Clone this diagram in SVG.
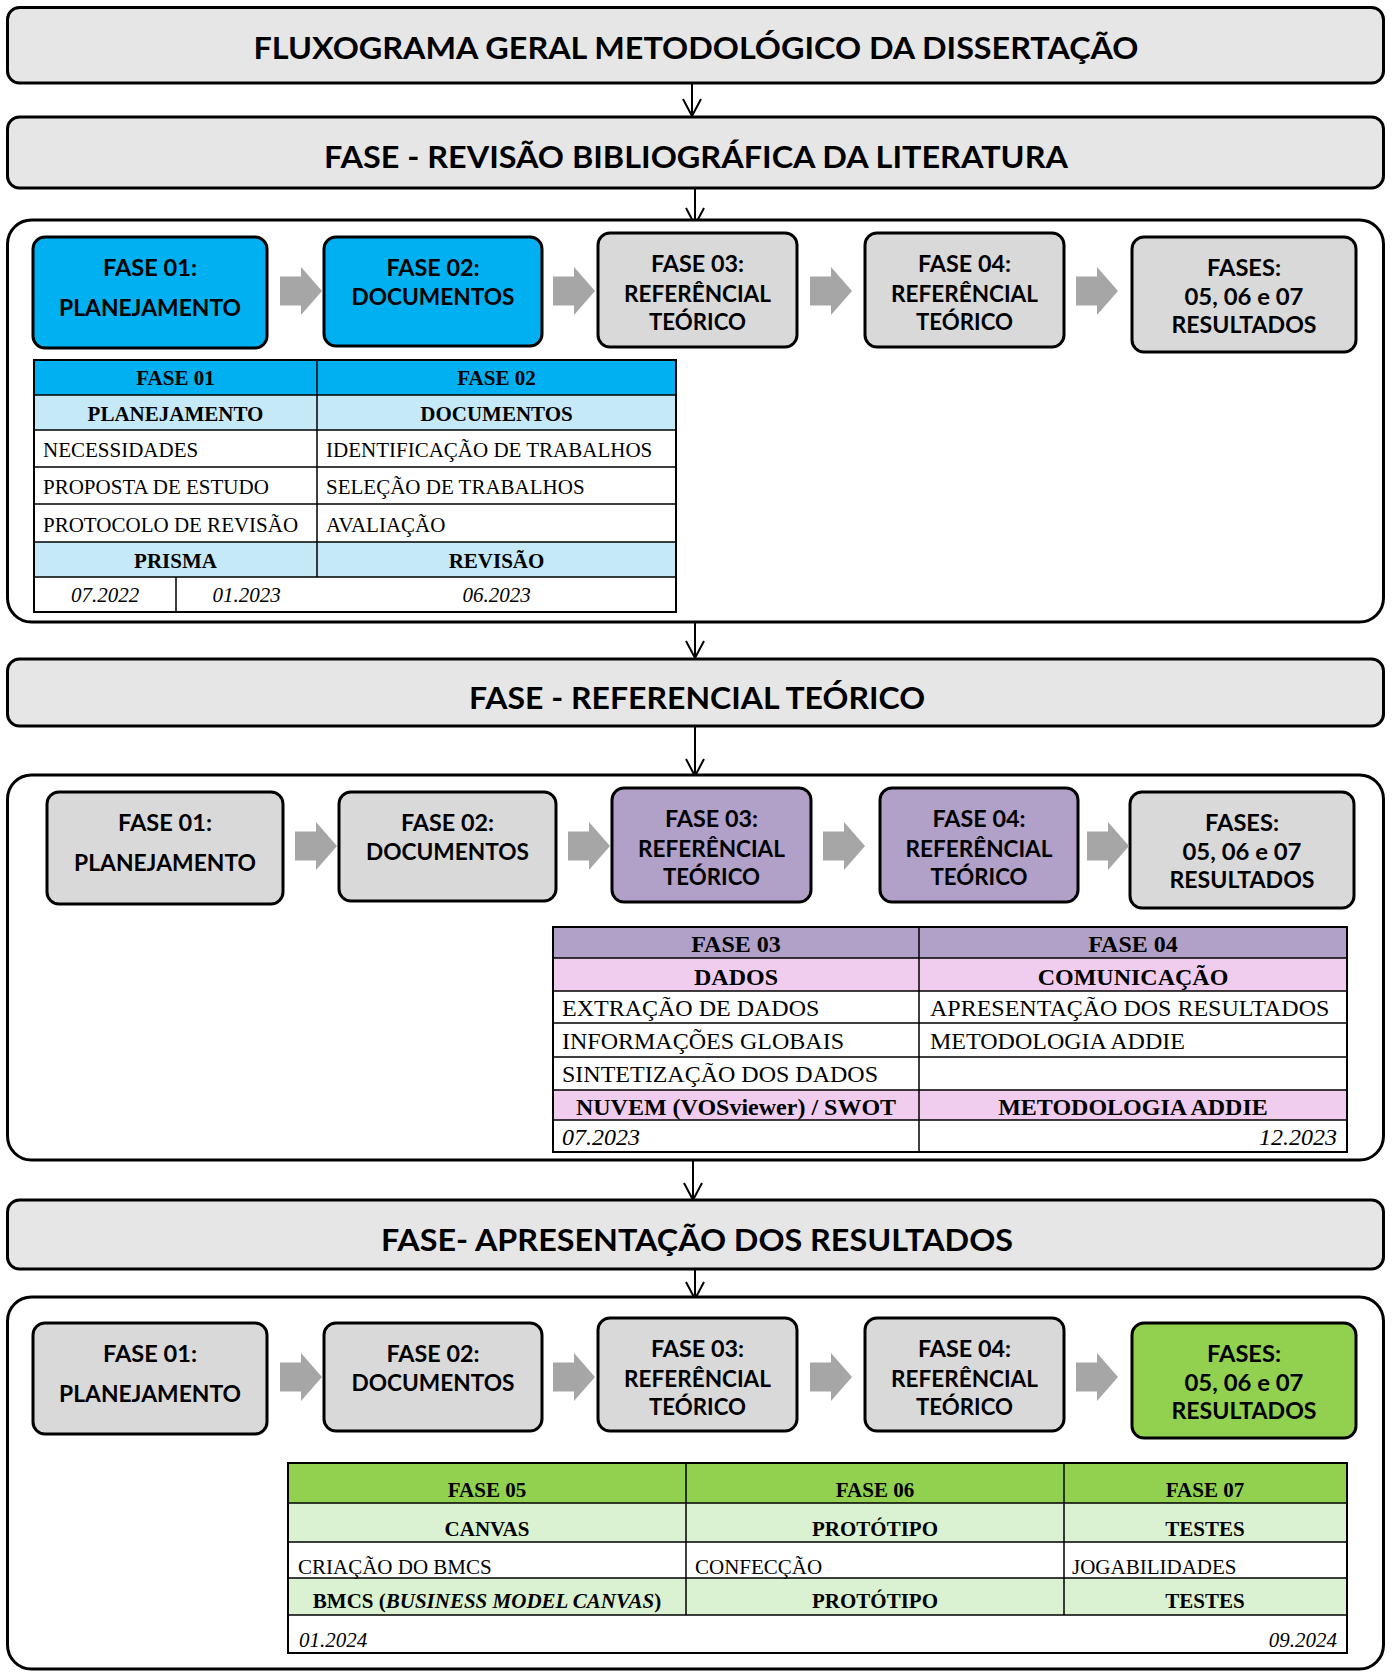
<svg xmlns="http://www.w3.org/2000/svg" width="1393" height="1673" viewBox="0 0 1393 1673">
<defs>
<style>
.bg{fill:#fff}
.title{fill:#E7E6E6;stroke:#000;stroke-width:3}
.cont{fill:#fff;stroke:#000;stroke-width:3}
.box{stroke:#000;stroke-width:3}
.grey{fill:#D9D9D9}
.blue{fill:#00B0F0}
.purple{fill:#B1A0C7}
.green{fill:#92D050}
.garrow{fill:#A6A6A6}
.ht{font-family:Lato,"Open Sans","Liberation Sans",sans-serif;font-weight:bold;font-size:31px;text-anchor:middle;fill:#000}
.bl{font-family:Lato,"Open Sans","Liberation Sans",sans-serif;font-weight:bold;font-size:23px;text-anchor:middle;fill:#000}
.tb{font-family:"Liberation Serif","Times New Roman",serif;fill:#000}
.t1{font-size:21px}
.t2{font-size:24px}
.b{font-weight:bold}
.i{font-style:italic}
.m{text-anchor:middle}
.e{text-anchor:end}
.grid{fill:none;stroke:#000;stroke-width:1.5}
.outer{fill:none;stroke:#000;stroke-width:2}
.conn{stroke:#000;stroke-width:2;fill:none}
</style>
<marker id="open" viewBox="0 0 20 20" markerWidth="20" markerHeight="20" refX="18" refY="10" orient="auto" markerUnits="userSpaceOnUse">
<path d="M1,1 L18,10 L1,19" fill="none" stroke="#000" stroke-width="2"/>
</marker>
<path id="ga" d="M0,-14.5 H21 V-24 L42,0 L21,24 V14.5 H0 Z"/>
</defs>
<rect class="bg" x="0" y="0" width="1393" height="1673"/>

<g id="connectors">
<line class="conn" x1="692" y1="84" x2="692" y2="116" marker-end="url(#open)"/>
<line class="conn" x1="695" y1="189" x2="695" y2="225" marker-end="url(#open)"/>
<line class="conn" x1="695" y1="623" x2="695" y2="658" marker-end="url(#open)"/>
<line class="conn" x1="695" y1="727" x2="695" y2="776" marker-end="url(#open)"/>
<line class="conn" x1="693" y1="1161" x2="693" y2="1200" marker-end="url(#open)"/>
<line class="conn" x1="695" y1="1270" x2="695" y2="1299" marker-end="url(#open)"/>
</g>

<g id="title-main">
<rect class="title" x="7.5" y="7.5" width="1376" height="75.5" rx="12"/>
<text class="ht" x="696" y="59" textLength="885" lengthAdjust="spacingAndGlyphs">FLUXOGRAMA GERAL METODOLÓGICO DA DISSERTAÇÃO</text>
</g>

<g id="title-revisao">
<rect class="title" x="7.5" y="117" width="1376" height="71" rx="12"/>
<text class="ht" x="696" y="168" textLength="744" lengthAdjust="spacingAndGlyphs">FASE - REVISÃO BIBLIOGRÁFICA DA LITERATURA</text>
</g>

<g id="container-revisao">
<rect class="cont" x="7.5" y="220" width="1376" height="402" rx="24"/>
</g>

<g id="r1-fase01">
<rect class="box blue" x="33" y="237" width="234" height="111" rx="12"/>
<text class="bl" x="150" y="276" textLength="94" lengthAdjust="spacingAndGlyphs">FASE 01:</text>
<text class="bl" x="150" y="316" textLength="182" lengthAdjust="spacingAndGlyphs">PLANEJAMENTO</text>
</g>
<g id="r1-fase02">
<rect class="box blue" x="324" y="237" width="218" height="109" rx="12"/>
<text class="bl" x="433" y="276" textLength="93" lengthAdjust="spacingAndGlyphs">FASE 02:</text>
<text class="bl" x="433" y="305" textLength="163" lengthAdjust="spacingAndGlyphs">DOCUMENTOS</text>
</g>
<g id="r1-fase03">
<rect class="box grey" x="598" y="233" width="199" height="114" rx="12"/>
<text class="bl" x="697.5" y="272" textLength="93" lengthAdjust="spacingAndGlyphs">FASE 03:</text>
<text class="bl" x="697.5" y="302" textLength="147" lengthAdjust="spacingAndGlyphs">REFERÊNCIAL</text>
<text class="bl" x="697.5" y="330" textLength="97" lengthAdjust="spacingAndGlyphs">TEÓRICO</text>
</g>
<g id="r1-fase04">
<rect class="box grey" x="865" y="233" width="199" height="114" rx="12"/>
<text class="bl" x="964.5" y="272" textLength="93" lengthAdjust="spacingAndGlyphs">FASE 04:</text>
<text class="bl" x="964.5" y="302" textLength="147" lengthAdjust="spacingAndGlyphs">REFERÊNCIAL</text>
<text class="bl" x="964.5" y="330" textLength="97" lengthAdjust="spacingAndGlyphs">TEÓRICO</text>
</g>
<g id="r1-fases">
<rect class="box grey" x="1132" y="237" width="224" height="115" rx="12"/>
<text class="bl" x="1244" y="276" textLength="74" lengthAdjust="spacingAndGlyphs">FASES:</text>
<text class="bl" x="1244" y="305" textLength="119" lengthAdjust="spacingAndGlyphs">05, 06 e 07</text>
<text class="bl" x="1244" y="333" textLength="145" lengthAdjust="spacingAndGlyphs">RESULTADOS</text>
</g>
<g id="r1-arrows" class="garrow">
<use href="#ga" x="280" y="291"/>
<use href="#ga" x="553" y="291"/>
<use href="#ga" x="810" y="291"/>
<use href="#ga" x="1076" y="291"/>
</g>

<g id="table-revisao" class="tb t1">
<rect x="34" y="360" width="642" height="35" fill="#00B0F0"/>
<rect x="34" y="395" width="642" height="35" fill="#C5E9F7"/>
<rect x="34" y="542" width="642" height="35" fill="#C5E9F7"/>
<path class="grid" d="M34,395H676M34,430H676M34,467H676M34,504H676M34,542H676M34,577H676M317,360V577M176,577V612"/>
<rect class="outer" x="34" y="360" width="642" height="252"/>
<text class="b m" x="175.5" y="385">FASE 01</text>
<text class="b m" x="496.5" y="385">FASE 02</text>
<text class="b m" x="175.5" y="421">PLANEJAMENTO</text>
<text class="b m" x="496.5" y="421">DOCUMENTOS</text>
<text x="43" y="457">NECESSIDADES</text>
<text x="326" y="457">IDENTIFICAÇÃO DE TRABALHOS</text>
<text x="43" y="494">PROPOSTA DE ESTUDO</text>
<text x="326" y="494">SELEÇÃO DE TRABALHOS</text>
<text x="43" y="532">PROTOCOLO DE REVISÃO</text>
<text x="326" y="532">AVALIAÇÃO</text>
<text class="b m" x="175.5" y="568">PRISMA</text>
<text class="b m" x="496.5" y="568">REVISÃO</text>
<text class="i m" x="105" y="602">07.2022</text>
<text class="i m" x="246.5" y="602">01.2023</text>
<text class="i m" x="496.5" y="602">06.2023</text>
</g>

<g id="title-referencial">
<rect class="title" x="7.5" y="659" width="1376" height="67" rx="12"/>
<text class="ht" x="697" y="709" textLength="456" lengthAdjust="spacingAndGlyphs">FASE - REFERENCIAL TEÓRICO</text>
</g>

<g id="container-referencial">
<rect class="cont" x="7.5" y="775" width="1376" height="385" rx="24"/>
</g>

<g id="r2-fase01">
<rect class="box grey" x="47" y="792" width="236" height="112" rx="12"/>
<text class="bl" x="165" y="831" textLength="94" lengthAdjust="spacingAndGlyphs">FASE 01:</text>
<text class="bl" x="165" y="871" textLength="182" lengthAdjust="spacingAndGlyphs">PLANEJAMENTO</text>
</g>
<g id="r2-fase02">
<rect class="box grey" x="339" y="792" width="217" height="109" rx="12"/>
<text class="bl" x="447.5" y="831" textLength="93" lengthAdjust="spacingAndGlyphs">FASE 02:</text>
<text class="bl" x="447.5" y="860" textLength="163" lengthAdjust="spacingAndGlyphs">DOCUMENTOS</text>
</g>
<g id="r2-fase03">
<rect class="box purple" x="612" y="788" width="199" height="114" rx="12"/>
<text class="bl" x="711.5" y="827" textLength="93" lengthAdjust="spacingAndGlyphs">FASE 03:</text>
<text class="bl" x="711.5" y="857" textLength="147" lengthAdjust="spacingAndGlyphs">REFERÊNCIAL</text>
<text class="bl" x="711.5" y="885" textLength="97" lengthAdjust="spacingAndGlyphs">TEÓRICO</text>
</g>
<g id="r2-fase04">
<rect class="box purple" x="880" y="788" width="198" height="114" rx="12"/>
<text class="bl" x="979" y="827" textLength="93" lengthAdjust="spacingAndGlyphs">FASE 04:</text>
<text class="bl" x="979" y="857" textLength="147" lengthAdjust="spacingAndGlyphs">REFERÊNCIAL</text>
<text class="bl" x="979" y="885" textLength="97" lengthAdjust="spacingAndGlyphs">TEÓRICO</text>
</g>
<g id="r2-fases">
<rect class="box grey" x="1130" y="792" width="224" height="116" rx="12"/>
<text class="bl" x="1242" y="831" textLength="74" lengthAdjust="spacingAndGlyphs">FASES:</text>
<text class="bl" x="1242" y="860" textLength="119" lengthAdjust="spacingAndGlyphs">05, 06 e 07</text>
<text class="bl" x="1242" y="888" textLength="145" lengthAdjust="spacingAndGlyphs">RESULTADOS</text>
</g>
<g id="r2-arrows" class="garrow">
<use href="#ga" x="295" y="846"/>
<use href="#ga" x="568" y="846"/>
<use href="#ga" x="823" y="846"/>
<use href="#ga" x="1087" y="846"/>
</g>

<g id="table-referencial" class="tb t2">
<rect x="553" y="927" width="794" height="31" fill="#B1A0C7"/>
<rect x="553" y="958" width="794" height="33" fill="#F0CDEE"/>
<rect x="553" y="1090" width="794" height="30" fill="#F0CDEE"/>
<path class="grid" d="M553,958H1347M553,991H1347M553,1023H1347M553,1057H1347M553,1090H1347M553,1120H1347M919,927V1152"/>
<rect class="outer" x="553" y="927" width="794" height="225"/>
<text class="b m" x="736" y="952">FASE 03</text>
<text class="b m" x="1133" y="952">FASE 04</text>
<text class="b m" x="736" y="985">DADOS</text>
<text class="b m" x="1133" y="985">COMUNICAÇÃO</text>
<text x="562" y="1016">EXTRAÇÃO DE DADOS</text>
<text x="930" y="1016">APRESENTAÇÃO DOS RESULTADOS</text>
<text x="562" y="1049">INFORMAÇÕES GLOBAIS</text>
<text x="930" y="1049">METODOLOGIA ADDIE</text>
<text x="562" y="1082">SINTETIZAÇÃO DOS DADOS</text>
<text class="b m" x="736" y="1115">NUVEM (VOSviewer) / SWOT</text>
<text class="b m" x="1133" y="1115">METODOLOGIA ADDIE</text>
<text class="i" x="562" y="1145">07.2023</text>
<text class="i e" x="1337" y="1145">12.2023</text>
</g>

<g id="title-resultados">
<rect class="title" x="7.5" y="1200" width="1376" height="69" rx="12"/>
<text class="ht" x="697" y="1251" textLength="632" lengthAdjust="spacingAndGlyphs">FASE- APRESENTAÇÃO DOS RESULTADOS</text>
</g>

<g id="container-resultados">
<rect class="cont" x="7.5" y="1297" width="1376" height="372" rx="24"/>
</g>

<g id="r3-fase01">
<rect class="box grey" x="33" y="1323" width="234" height="111" rx="12"/>
<text class="bl" x="150" y="1362" textLength="94" lengthAdjust="spacingAndGlyphs">FASE 01:</text>
<text class="bl" x="150" y="1402" textLength="182" lengthAdjust="spacingAndGlyphs">PLANEJAMENTO</text>
</g>
<g id="r3-fase02">
<rect class="box grey" x="324" y="1323" width="218" height="108" rx="12"/>
<text class="bl" x="433" y="1362" textLength="93" lengthAdjust="spacingAndGlyphs">FASE 02:</text>
<text class="bl" x="433" y="1391" textLength="163" lengthAdjust="spacingAndGlyphs">DOCUMENTOS</text>
</g>
<g id="r3-fase03">
<rect class="box grey" x="598" y="1318" width="199" height="113" rx="12"/>
<text class="bl" x="697.5" y="1357" textLength="93" lengthAdjust="spacingAndGlyphs">FASE 03:</text>
<text class="bl" x="697.5" y="1387" textLength="147" lengthAdjust="spacingAndGlyphs">REFERÊNCIAL</text>
<text class="bl" x="697.5" y="1415" textLength="97" lengthAdjust="spacingAndGlyphs">TEÓRICO</text>
</g>
<g id="r3-fase04">
<rect class="box grey" x="865" y="1318" width="199" height="113" rx="12"/>
<text class="bl" x="964.5" y="1357" textLength="93" lengthAdjust="spacingAndGlyphs">FASE 04:</text>
<text class="bl" x="964.5" y="1387" textLength="147" lengthAdjust="spacingAndGlyphs">REFERÊNCIAL</text>
<text class="bl" x="964.5" y="1415" textLength="97" lengthAdjust="spacingAndGlyphs">TEÓRICO</text>
</g>
<g id="r3-fases">
<rect class="box green" x="1132" y="1323" width="224" height="115" rx="12"/>
<text class="bl" x="1244" y="1362" textLength="74" lengthAdjust="spacingAndGlyphs">FASES:</text>
<text class="bl" x="1244" y="1391" textLength="119" lengthAdjust="spacingAndGlyphs">05, 06 e 07</text>
<text class="bl" x="1244" y="1419" textLength="145" lengthAdjust="spacingAndGlyphs">RESULTADOS</text>
</g>
<g id="r3-arrows" class="garrow">
<use href="#ga" x="280" y="1377"/>
<use href="#ga" x="553" y="1377"/>
<use href="#ga" x="810" y="1377"/>
<use href="#ga" x="1076" y="1377"/>
</g>

<g id="table-resultados" class="tb t1">
<rect x="288" y="1463" width="1059" height="40" fill="#92D050"/>
<rect x="288" y="1503" width="1059" height="39" fill="#DBF2D2"/>
<rect x="288" y="1578" width="1059" height="37" fill="#DBF2D2"/>
<path class="grid" d="M288,1503H1347M288,1542H1347M288,1578H1347M288,1615H1347M686,1463V1615M1064,1463V1615"/>
<rect class="outer" x="288" y="1463" width="1059" height="190"/>
<text class="b m" x="487" y="1497">FASE 05</text>
<text class="b m" x="875" y="1497">FASE 06</text>
<text class="b m" x="1205" y="1497">FASE 07</text>
<text class="b m" x="487" y="1536">CANVAS</text>
<text class="b m" x="875" y="1536">PROTÓTIPO</text>
<text class="b m" x="1205" y="1536">TESTES</text>
<text x="298" y="1574">CRIAÇÃO DO BMCS</text>
<text x="695" y="1574">CONFECÇÃO</text>
<text x="1072" y="1574">JOGABILIDADES</text>
<text class="b m" x="487" y="1608">BMCS (<tspan class="i">BUSINESS MODEL CANVAS</tspan>)</text>
<text class="b m" x="875" y="1608">PROTÓTIPO</text>
<text class="b m" x="1205" y="1608">TESTES</text>
<text class="i" x="299" y="1647">01.2024</text>
<text class="i e" x="1337" y="1647">09.2024</text>
</g>
</svg>
